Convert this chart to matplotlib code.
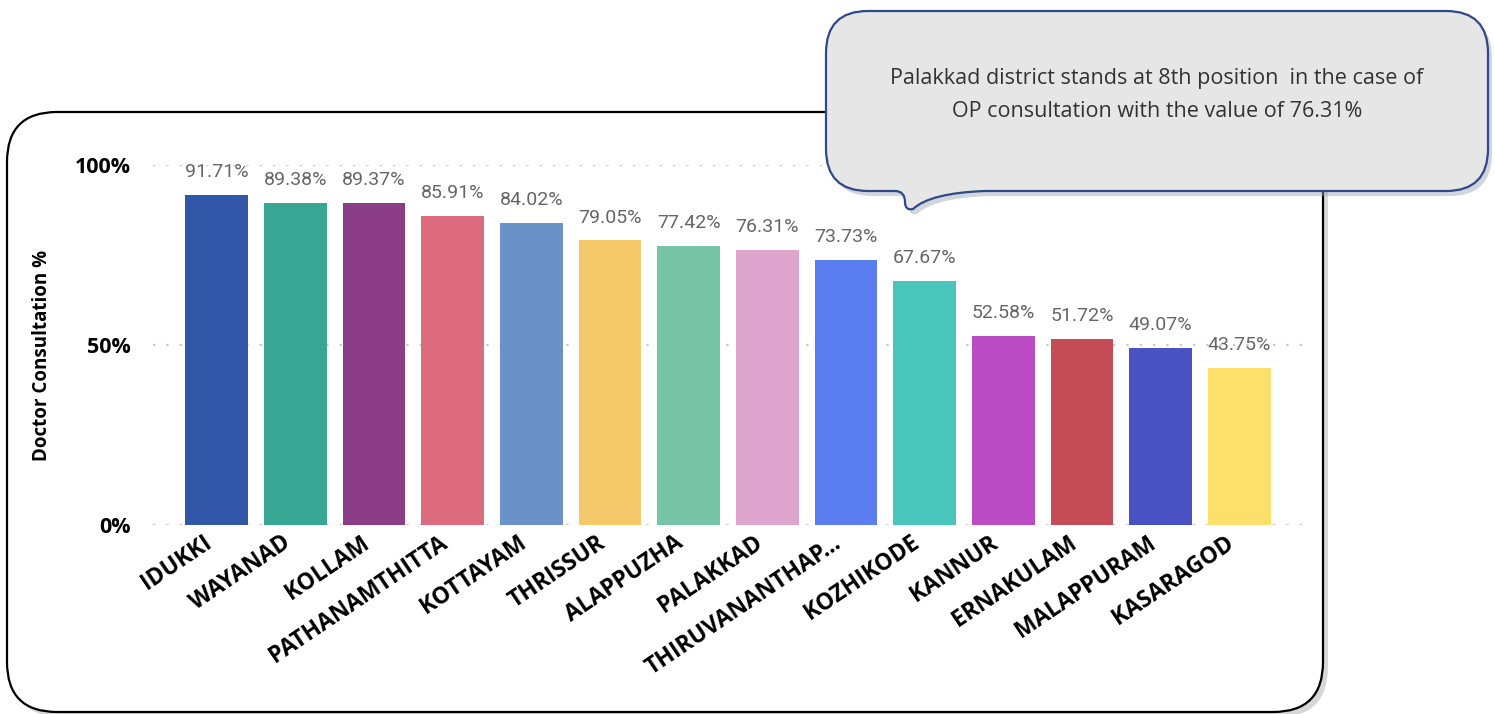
import matplotlib
matplotlib.use("Agg")
import matplotlib.pyplot as plt
import matplotlib.transforms as mtransforms
from matplotlib.patches import FancyBboxPatch, PathPatch
from matplotlib.path import Path

districts = ["IDUKKI", "WAYANAD", "KOLLAM", "PATHANAMTHITTA", "KOTTAYAM", "THRISSUR",
             "ALAPPUZHA", "PALAKKAD", "THIRUVANANTHAP...", "KOZHIKODE", "KANNUR",
             "ERNAKULAM", "MALAPPURAM", "KASARAGOD"]
values = [91.71, 89.38, 89.37, 85.91, 84.02, 79.05, 77.42, 76.31, 73.73, 67.67,
          52.58, 51.72, 49.07, 43.75]
colors = ["#3257A8", "#37A794", "#8B3D88", "#DD6B7F", "#6B91C9", "#F5C869", "#77C4A8",
          "#DEA6CF", "#5A7DF0", "#4AC5BB", "#BA4BC4", "#C54B54", "#4A52C3", "#FDE06B"]
yticks = [0, 50, 100]
ytick_labels = ["0%", "50%", "100%"]
callout = "Palakkad district stands at 8th position  in the case of\nOP consultation with the value of 76.31%"

W, H = 1495, 714
fig = plt.figure(figsize=(W / 100, H / 100), dpi=100)

# background layer in pixel units (y down)
bg = fig.add_axes([0, 0, 1, 1], zorder=0)
bg.set_xlim(0, W)
bg.set_ylim(H, 0)
bg.axis("off")
shadow = FancyBboxPatch((12, 117), 1316, 600, boxstyle="round,pad=0,rounding_size=50",
                        fc="#BDBDBD", ec="none", alpha=0.6)
bg.add_patch(shadow)
card = FancyBboxPatch((7, 112), 1316, 600, boxstyle="round,pad=0,rounding_size=50",
                      fc="white", ec="black", lw=1.6)
bg.add_patch(card)

# chart
ax = fig.add_axes([153 / W, 189 / H, 1150 / W, 360 / H], zorder=1)
ax.patch.set_alpha(0)
x = range(len(districts))
bars = ax.bar(x, values, width=0.8, color=colors, zorder=2)
ax.set_xlim(-0.81, len(districts) - 1 + 0.81)
ax.set_ylim(0, 100)
ax.set_yticks(yticks)
ax.set_yticklabels(ytick_labels, fontfamily="Open Sans", fontweight="bold", fontsize=15.5)
ax.set_xticks(list(x))
ax.set_xticklabels([])
# category labels, rotated, right end just left of the bar centre
lbl_tr = ax.get_xaxis_transform() + mtransforms.ScaledTranslation(
    -14 / 100, -6 / 100, fig.dpi_scale_trans)
for i, name in zip(x, districts):
    ax.text(i, 0, name, transform=lbl_tr, rotation=34, ha="right", va="top",
            rotation_mode="anchor", fontfamily="Open Sans", fontweight="bold",
            fontsize=16.5, clip_on=False)
ax.tick_params(axis="both", length=0)
ax.tick_params(axis="y", pad=16)
for s in ax.spines.values():
    s.set_visible(False)
ax.grid(axis="y", color="#C8C8C8", linestyle=(0, (1, 5)), linewidth=1.6, zorder=0)
ax.set_axisbelow(True)
ax.set_ylabel("Doctor Consultation %", fontfamily="Open Sans", fontweight="bold",
              fontsize=13.5)
ax.yaxis.set_label_coords(-0.088, 0.47)
for b, v in zip(bars, values):
    ax.annotate(f"{v:.2f}%", (b.get_x() + b.get_width() / 2, v), xytext=(0, 10),
                textcoords="offset points", ha="center", va="bottom",
                fontfamily="Roboto", fontsize=14, color="#666666", clip_on=False)

# callout bubble on top
ov = fig.add_axes([0, 0, 1, 1], zorder=5)
ov.set_xlim(0, W)
ov.set_ylim(H, 0)
ov.axis("off")
ov.patch.set_alpha(0)

x0, x1, y0, y1, r = 826, 1488, 11, 191, 42


def bubble(dx, dy):
    pts = [(x0 + r, y0), (x1 - r, y0), (x1, y0), (x1, y0 + r), (x1, y1 - r),
           (x1, y1), (x1 - r, y1), (985, y1), (930, y1 + 2), (913, 209),
           (905, 211), (905, 202), (905, y1), (895, y1), (x0 + r, y1),
           (x0, y1), (x0, y1 - r), (x0, y0 + r), (x0, y0), (x0 + r, y0), (0, 0)]
    codes = [Path.MOVETO, Path.LINETO, Path.CURVE3, Path.CURVE3, Path.LINETO,
             Path.CURVE3, Path.CURVE3, Path.LINETO, Path.CURVE3, Path.CURVE3,
             Path.CURVE3, Path.CURVE3, Path.CURVE3, Path.CURVE3, Path.LINETO,
             Path.CURVE3, Path.CURVE3, Path.LINETO, Path.CURVE3, Path.CURVE3,
             Path.CLOSEPOLY]
    return Path([(px + dx, py + dy) for px, py in pts], codes)


ov.add_patch(PathPatch(bubble(4, 5), fc="#9AA3B5", ec="none", alpha=0.45))
ov.add_patch(PathPatch(bubble(0, 0), fc="#E6E6E6", ec="#2F4A86", lw=1.6))
ov.text((x0 + x1) / 2, 95, callout, ha="center", va="center", fontfamily="Open Sans",
        fontsize=15.5, color="#333333", linespacing=1.8)

fig.savefig("out.png", dpi=100)
